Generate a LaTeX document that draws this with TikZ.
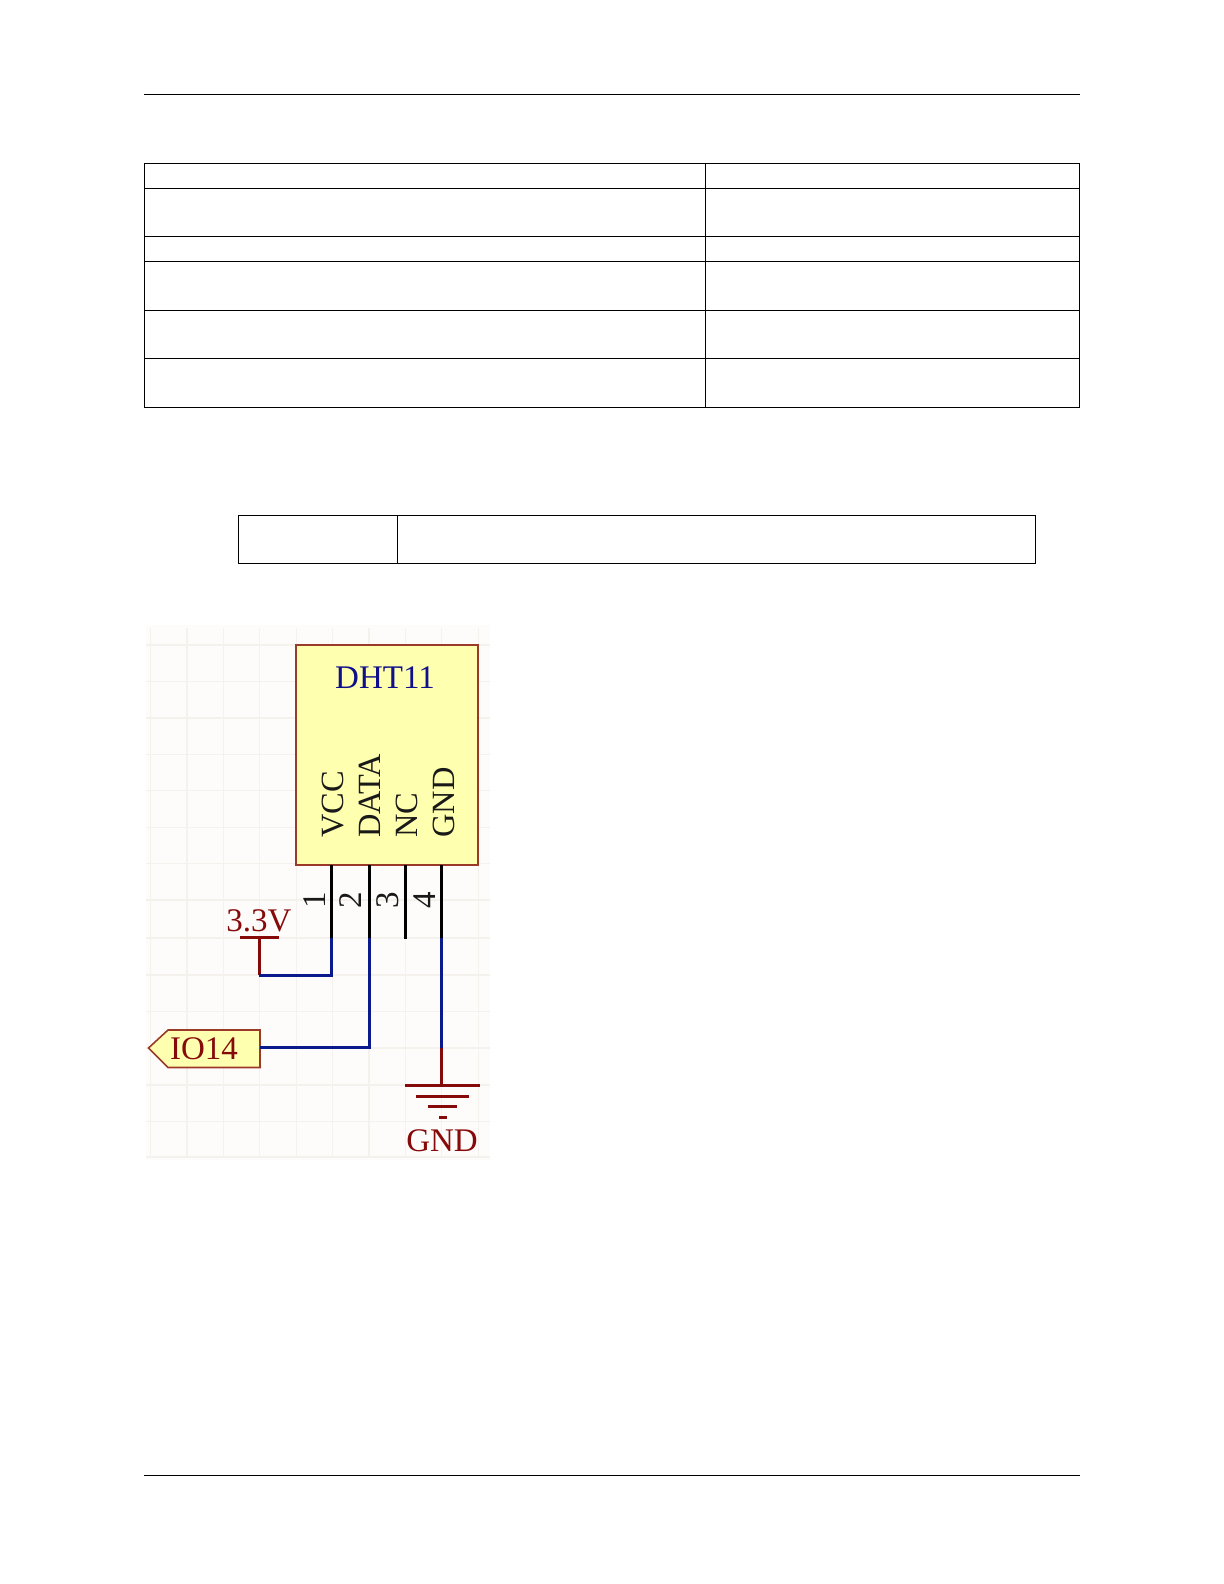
\documentclass[tikz,border=0pt]{standalone}
\usepackage{fontspec}
\setmainfont{Liberation Serif}
\usepackage{tikz}
\usetikzlibrary{calc, positioning}

\definecolor{boxred}{HTML}{9C3A2A}
\definecolor{boxfill}{HTML}{FFFFB0}
\definecolor{netred}{HTML}{860A0A}
\definecolor{wireblue}{HTML}{0A1A8C}
\definecolor{partblue}{HTML}{10108C}
\definecolor{paper}{HTML}{FEFCFA}
\definecolor{gridline}{HTML}{F5F2EE}

\tikzset{
	rule/.style={black, line width=0.55pt},
	pinline/.style={black, line width=1.5pt},
	wire/.style={wireblue, line width=1.5pt},
	netline/.style={netred, line width=1.5pt},
	pinname/.style={rotate=90, anchor=base west, inner sep=0, black!90, font=\fontsize{16.2}{18}\selectfont},
	pinnum/.style={rotate=90, anchor=base, inner sep=0, black!90, font=\fontsize{16.5}{18}\selectfont},
	netname/.style={netred, anchor=base, inner sep=0, font=\fontsize{16.5}{18}\selectfont}
}

\begin{document}
\begin{tikzpicture}[x=0.5pt, y=-0.5pt]
		\useasboundingbox (0,0) rectangle (1224,1584);
		\fill[white] (0,0) rectangle (1224,1584);
		
		\draw[rule] (144,94.5) -- (1080,94.5);
		\draw[rule] (144,1475.5) -- (1080,1475.5);
		
		\draw[rule] (144.5,163.5) rectangle (1079.5,407.5);
		\draw[rule] (705.5,163.5) -- (705.5,407.5);
		\draw[rule] (144.5,188.5) -- (1079.5,188.5);
		\draw[rule] (144.5,236.5) -- (1079.5,236.5);
		\draw[rule] (144.5,261.5) -- (1079.5,261.5);
		\draw[rule] (144.5,310.5) -- (1079.5,310.5);
		\draw[rule] (144.5,358.5) -- (1079.5,358.5);
		
		\draw[rule] (238.5,515.5) rectangle (1035.5,563.5);
		\draw[rule] (397.5,515.5) -- (397.5,563.5);
		
		\fill[paper] (146,625) rectangle (490,1160);
		\foreach \gx in {150.6,187,223.4,259.8,296.2,332.6,369,405.4,441.8,478.2}
			\draw[gridline, line width=0.6pt] (\gx,628) -- (\gx,1157);
		\foreach \gy in {645,681.6,718,754.4,790.8,827.2,863.6,900,938,975,1011.5,1048,1085,1121.5,1157}
			\draw[gridline, line width=0.6pt] (146,\gy) -- (490,\gy);
		
		\filldraw[fill=boxfill, draw=boxred, line width=1pt] (296,645) rectangle (478,865);
		\node[partblue, inner sep=0, font=\fontsize{16.5}{18}\selectfont] (dht) at (385,678) {DHT11};
		
		\node[pinname] (vcc) at (343,838) {VCC};
		\node[pinname] (data) at (380,838) {DATA};
		\node[pinname] (nc) at (417,838) {NC};
		\node[pinname] (gnd) at (454,838) {GND};
		
		\coordinate (p1) at (331.5,865);
		\coordinate (p2) at (369,865);
		\coordinate (p3) at (405,865);
		\coordinate (p4) at (441,865);
		\coordinate (e1) at (331.5,938);
		\coordinate (e2) at (369,938);
		\coordinate (e3) at (405,939);
		\coordinate (e4) at (441,938);
		
		\draw[pinline] (p1) -- (e1);
		\draw[pinline] (p2) -- (e2);
		\draw[pinline] (p3) -- (e3);
		\draw[pinline] (p4) -- (e4);
		
		\node[pinnum] (n1) at (325,900) {1};
		\node[pinnum] (n2) at (361.5,900) {2};
		\node[pinnum] (n3) at (398,900) {3};
		\node[pinnum] (n4) at (435,900) {4};
		
		\node[netname] (vdd) at (259,931) {3.3V};
		\coordinate (vl) at (240,937.5);
		\coordinate (vr) at (279,937.5);
		\coordinate (vm) at (259,937.5);
		\coordinate (vb) at (259,975);
		\draw[netline] (vl) -- (vr);
		\draw[netline] (vm) -- (vb);
		\draw[wire] (vb) -- (vb -| e1) -- (e1);
		
		\filldraw[fill=boxfill, draw=boxred, line width=0.8pt] (148.5,1048) -- (168,1030) -- (260,1030) -- (260,1067.5) -- (168,1067.5) -- cycle;
		\node[netname] (io) at (204,1059) {IO14};
		\coordinate (ioe) at (260,1047);
		\draw[wire] (ioe) -- (ioe -| e2) -- (e2);
		
		\coordinate (gm) at (441,1048);
		\coordinate (gt) at (441,1085);
		\draw[wire] (e4) -- (gm);
		\draw[netline] (gm) -- (gt);
		\draw[netline] (405,1085) -- (480,1085);
		\draw[netline] (416,1096) -- (469,1096);
		\draw[netline] (428,1106.5) -- (457,1106.5);
		\draw[netline] (439,1117.5) -- (447,1117.5);
		\node[netname] (gl) at (442,1151) {GND};

	\end{tikzpicture}
\end{document}
